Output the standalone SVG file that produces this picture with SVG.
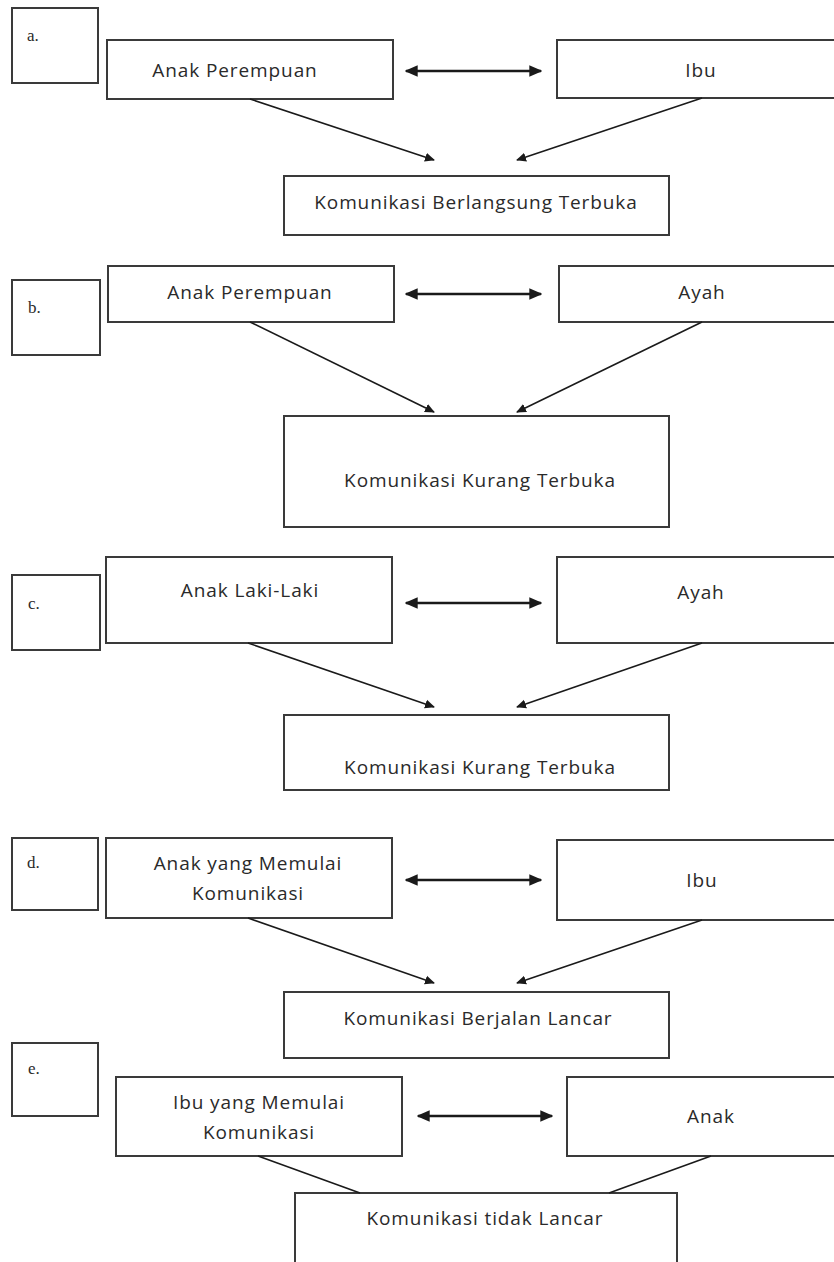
<svg xmlns="http://www.w3.org/2000/svg" width="834" height="1262" viewBox="0 0 834 1262">
<defs>
<marker id="ah" viewBox="0 0 10 10" refX="9" refY="5" markerWidth="10" markerHeight="10" markerUnits="userSpaceOnUse" orient="auto-start-reverse">
<path d="M0,0.5 L10,5 L0,9.5 z" fill="#1a1a1a"/>
</marker>
<marker id="ah2" viewBox="0 0 10 10" refX="9" refY="5" markerWidth="13" markerHeight="13" markerUnits="userSpaceOnUse" orient="auto-start-reverse">
<path d="M0,0.5 L10,5 L0,9.5 z" fill="#1a1a1a"/>
</marker>
</defs>
<style>
.box{fill:#fff;stroke:#3a3a3a;stroke-width:2}
.t{font-family:"Open Sans","Liberation Sans",sans-serif;font-size:19px;letter-spacing:0.9px;fill:#2a2a2a;text-anchor:middle}
.lbl{font-family:"Liberation Serif",serif;font-size:17px;fill:#2a2a2a}
.ln{stroke:#1a1a1a;stroke-width:1.6;fill:none}
.dbl{stroke:#1a1a1a;stroke-width:2.6;fill:none}
</style>
<rect width="834" height="1262" fill="#fff"/>

<!-- Section a -->
<g id="label-a"><rect class="box" x="12" y="8" width="86" height="75"/><text class="lbl" x="27" y="41">a.</text></g>
<g id="a-anak"><rect class="box" x="107" y="40" width="286" height="59"/><text class="t" x="235" y="77">Anak Perempuan</text></g>
<g id="a-ibu"><rect class="box" x="557" y="40" width="290" height="58"/><text class="t" x="701" y="77">Ibu</text></g>
<g id="a-hasil"><rect class="box" x="284" y="176" width="385" height="59"/><text class="t" x="476" y="209">Komunikasi Berlangsung Terbuka</text></g>

<!-- Section b -->
<g id="label-b"><rect class="box" x="12" y="280" width="88" height="75"/><text class="lbl" x="28" y="313">b.</text></g>
<g id="b-anak"><rect class="box" x="108" y="266" width="286" height="56"/><text class="t" x="250" y="299">Anak Perempuan</text></g>
<g id="b-ayah"><rect class="box" x="559" y="266" width="290" height="56"/><text class="t" x="702" y="299">Ayah</text></g>
<g id="b-hasil"><rect class="box" x="284" y="416" width="385" height="111"/><text class="t" x="480" y="487">Komunikasi Kurang Terbuka</text></g>

<!-- Section c -->
<g id="label-c"><rect class="box" x="12" y="575" width="88" height="75"/><text class="lbl" x="28" y="609">c.</text></g>
<g id="c-anak"><rect class="box" x="106" y="557" width="286" height="86"/><text class="t" x="250" y="597">Anak Laki-Laki</text></g>
<g id="c-ayah"><rect class="box" x="557" y="557" width="290" height="86"/><text class="t" x="701" y="599">Ayah</text></g>
<g id="c-hasil"><rect class="box" x="284" y="715" width="385" height="75"/><text class="t" x="480" y="774">Komunikasi Kurang Terbuka</text></g>

<!-- Section d -->
<g id="label-d"><rect class="box" x="12" y="838" width="86" height="72"/><text class="lbl" x="27" y="868">d.</text></g>
<g id="d-anak"><rect class="box" x="106" y="838" width="286" height="80"/><text class="t" x="248" y="870">Anak yang Memulai</text><text class="t" x="248" y="900">Komunikasi</text></g>
<g id="d-ibu"><rect class="box" x="557" y="840" width="290" height="80"/><text class="t" x="702" y="887">Ibu</text></g>
<g id="d-hasil"><rect class="box" x="284" y="992" width="385" height="66"/><text class="t" x="478" y="1025">Komunikasi Berjalan Lancar</text></g>

<!-- Section e -->
<g id="label-e"><rect class="box" x="12" y="1043" width="86" height="73"/><text class="lbl" x="28" y="1074">e.</text></g>
<g id="e-ibu"><rect class="box" x="116" y="1077" width="286" height="79"/><text class="t" x="259" y="1109">Ibu yang Memulai</text><text class="t" x="259" y="1139">Komunikasi</text></g>
<g id="e-anak"><rect class="box" x="567" y="1077" width="290" height="79"/><text class="t" x="711" y="1123">Anak</text></g>
<g id="e-hasil"><rect class="box" x="295" y="1193" width="382" height="90"/><text class="t" x="485" y="1225">Komunikasi tidak Lancar</text></g>

<g id="connectors">
<!-- a -->
<line class="dbl" x1="406" y1="71" x2="541" y2="71" marker-start="url(#ah2)" marker-end="url(#ah2)"/>
<line class="ln" x1="250" y1="99" x2="434" y2="160" marker-end="url(#ah)"/>
<line class="ln" x1="702" y1="98" x2="517" y2="160" marker-end="url(#ah)"/>
<!-- b -->
<line class="dbl" x1="406" y1="294" x2="541" y2="294" marker-start="url(#ah2)" marker-end="url(#ah2)"/>
<line class="ln" x1="250" y1="322" x2="434" y2="412" marker-end="url(#ah)"/>
<line class="ln" x1="702" y1="322" x2="517" y2="412" marker-end="url(#ah)"/>
<!-- c -->
<line class="dbl" x1="406" y1="603" x2="541" y2="603" marker-start="url(#ah2)" marker-end="url(#ah2)"/>
<line class="ln" x1="248" y1="643" x2="434" y2="707" marker-end="url(#ah)"/>
<line class="ln" x1="702" y1="643" x2="517" y2="707" marker-end="url(#ah)"/>
<!-- d -->
<line class="dbl" x1="406" y1="880" x2="541" y2="880" marker-start="url(#ah2)" marker-end="url(#ah2)"/>
<line class="ln" x1="248" y1="918" x2="434" y2="983" marker-end="url(#ah)"/>
<line class="ln" x1="702" y1="920" x2="517" y2="983" marker-end="url(#ah)"/>
<!-- e -->
<line class="dbl" x1="418" y1="1116" x2="552" y2="1116" marker-start="url(#ah2)" marker-end="url(#ah2)"/>
<line class="ln" x1="258" y1="1156" x2="360" y2="1193"/>
<line class="ln" x1="711" y1="1156" x2="609" y2="1193"/>
</g>
</svg>
